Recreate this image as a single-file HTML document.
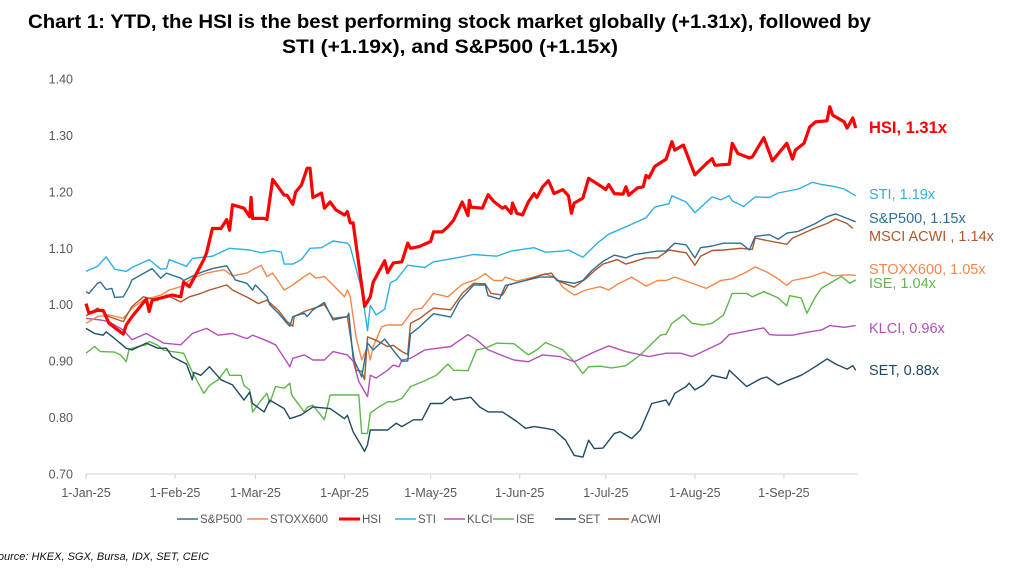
<!DOCTYPE html>
<html><head><meta charset="utf-8"><style>
html,body{margin:0;padding:0;background:#fff;}
svg{display:block;font-family:"Liberation Sans",sans-serif;}
</style></head><body>
<svg id="chart" width="1024" height="571" viewBox="0 0 1024 571" xmlns="http://www.w3.org/2000/svg">
<text x="28" y="28" font-size="19.5" font-weight="bold" fill="#000" textLength="843" lengthAdjust="spacingAndGlyphs">Chart 1: YTD, the HSI is the best performing stock market globally (+1.31x), followed by</text>
<text x="282" y="53" font-size="19.5" font-weight="bold" fill="#000" textLength="336" lengthAdjust="spacingAndGlyphs">STI (+1.19x), and S&amp;P500 (+1.15x)</text>
<g id="yaxis"></g>
<g id="xaxis"></g>
<g id="series"></g>
<g id="endlabels"></g>
<g id="legend"></g>
<text x="209" y="560" font-size="11" font-style="italic" fill="#111" text-anchor="end">Source: HKEX, SGX, Bursa, IDX, SET, CEIC</text>
</svg>
<script>
// ---- data (day index from 1-Jan-25, value) ----
const yTicks = [0.70,0.80,0.90,1.00,1.10,1.20,1.30,1.40];
const xTickDays = [0,31,59,90,120,151,181,212,243];
const xTickLabels = ["1-Jan-25","1-Feb-25","1-Mar-25","1-Apr-25","1-May-25","1-Jun-25","1-Jul-25","1-Aug-25","1-Sep-25"];
const seriesNames = ["S&P500","STOXX600","HSI","STI","KLCI","ISE","SET","ACWI"];
const seriesColors = ["#2E6E96","#F4874B","#FF0000","#2DB0E6","#B44FBA","#5DB848","#1E4A60","#B0562A"];

const hsiDays = [0,1,4,6,8,13,14,16,21,22,23,30,33,34,36,41,42,44,47,49,50,51,55,57,57.5,58,62,63,65,69,70,72,73,75,77,78,79,82,83,85,87,90,91,92,93,97,99,100,104,105,107,110,112,113,116,120,121,124,126,128,131,133,133.5,134,138,140,142,145,146,148,148.5,150,152,154,156,157,159,161,163,166,168,169,170,173,175,179,181,182,184,187,188,189,192,194,195,196,198,202,204,205,208,212,216,218,219,224,225,227,231,232,236,239,244,246,247,250,252,254,258,259,260,264,265,267,268];
const hsiVals = [1.002,0.985,0.99,0.99,0.967,0.948,0.964,0.979,1.01,0.988,1.008,1.017,1.014,1.04,1.032,1.08,1.092,1.135,1.135,1.151,1.132,1.177,1.171,1.156,1.19,1.153,1.153,1.151,1.222,1.194,1.194,1.178,1.2,1.212,1.242,1.242,1.19,1.198,1.171,1.182,1.168,1.159,1.165,1.145,1.145,0.997,1.014,1.04,1.078,1.057,1.074,1.076,1.109,1.1,1.103,1.112,1.129,1.129,1.138,1.15,1.182,1.158,1.185,1.173,1.171,1.195,1.183,1.171,1.174,1.162,1.18,1.162,1.159,1.182,1.197,1.19,1.209,1.22,1.197,1.204,1.193,1.162,1.18,1.189,1.224,1.211,1.204,1.213,1.197,1.196,1.209,1.194,1.207,1.209,1.229,1.225,1.245,1.258,1.289,1.274,1.283,1.23,1.25,1.259,1.247,1.249,1.286,1.268,1.26,1.262,1.296,1.255,1.286,1.258,1.274,1.286,1.315,1.324,1.326,1.351,1.336,1.324,1.313,1.331,1.313];

const stiDays = [0,4,7,10,14,16,22,26,28,29,35,37,44,50,57,61,65,68,69,72,75,78,82,86,91,92,96,98,99,101,104,106,108,112,118,121,128,135,143,148,156,160,166,168,173,178,182,188,195,198,203,204,209,212,218,221,224,225,229,233,238,241,248,253,256,260,264,268];
const stiVals = [1.059,1.068,1.085,1.063,1.059,1.066,1.08,1.063,1.064,1.08,1.068,1.082,1.086,1.1,1.097,1.092,1.096,1.093,1.072,1.072,1.08,1.1,1.101,1.113,1.109,1.103,1.026,0.954,0.999,0.982,0.992,1.039,1.044,1.07,1.066,1.076,1.082,1.089,1.086,1.095,1.101,1.093,1.095,1.097,1.084,1.109,1.125,1.138,1.154,1.173,1.179,1.193,1.182,1.163,1.191,1.186,1.193,1.184,1.174,1.191,1.19,1.198,1.205,1.217,1.213,1.21,1.205,1.193];

const spxDays = [0,1,4,5,7,9,10,13,15,16,23,26,28,33,34,38,41,44,49,52,56,58,59,63,64,67,70,71,72,76,77,79,83,86,91,91.5,93,95,96,98,100,104,107,110,112,113,116,121,127,130,135,139,140,144,146,153,158,163,164,170,173,176,180,184,188,191,195,199,202,205,209,212,214,218,222,228,231,233,238,241,244,248,254,258,261,265,268];
const spxVals = [1.023,1.02,1.038,1.04,1.027,1.029,1.013,1.014,1.032,1.044,1.064,1.047,1.056,1.047,1.043,1.053,1.059,1.064,1.069,1.044,1.038,1.026,1.035,1.014,1.0,0.985,0.967,0.962,0.979,0.985,0.979,0.991,1.004,0.973,0.979,0.985,0.905,0.884,0.872,0.932,0.92,0.939,0.919,0.9,0.9,0.948,0.96,0.984,0.978,1.007,1.035,1.035,1.016,1.01,1.034,1.043,1.049,1.049,1.043,1.038,1.043,1.06,1.077,1.088,1.083,1.089,1.092,1.095,1.095,1.109,1.106,1.083,1.101,1.104,1.109,1.109,1.097,1.121,1.124,1.116,1.127,1.13,1.144,1.156,1.161,1.153,1.147];

const stoxxDays = [0,4,8,13,16,20,26,29,33,37,42,48,51,56,58,61,63,65,69,72,76,78,80,83,86,90,91,92,94,96,98,99,100,103,105,110,114,117,121,126,131,136,139,142,145,146,150,156,160,164,166,170,174,179,182,185,190,195,199,202,205,210,216,221,225,230,233,237,241,244,246,252,257,260,265,268];
const stoxxVals = [0.967,0.979,0.982,0.976,0.994,1.008,1.017,1.026,1.032,1.047,1.056,1.062,1.051,1.056,1.062,1.07,1.05,1.056,1.026,1.035,1.05,1.056,1.047,1.05,1.035,1.014,1.026,1.015,0.943,0.902,0.926,0.902,0.926,0.961,0.964,0.964,0.991,0.994,1.02,1.014,1.036,1.045,1.055,1.043,1.043,1.049,1.042,1.049,1.055,1.046,1.031,1.017,1.026,1.032,1.026,1.036,1.049,1.033,1.043,1.043,1.049,1.04,1.029,1.043,1.046,1.058,1.067,1.058,1.046,1.034,1.043,1.049,1.058,1.051,1.053,1.052];

const klciDays = [0,5,8,13,16,21,25,27,33,37,42,46,51,56,58,62,66,71,72,76,79,83,86,91,93,95,98,99,101,105,107,109,110,113,118,127,133,136,140,149,154,159,165,170,176,182,188,196,202,207,211,216,221,224,230,236,238,241,246,252,256,259,264,268];
const klciVals = [0.976,0.973,0.97,0.955,0.938,0.949,0.938,0.932,0.929,0.949,0.958,0.946,0.949,0.94,0.946,0.938,0.929,0.89,0.905,0.911,0.902,0.902,0.917,0.911,0.9,0.864,0.837,0.875,0.87,0.884,0.893,0.89,0.902,0.905,0.92,0.926,0.947,0.938,0.92,0.902,0.899,0.911,0.908,0.899,0.914,0.927,0.917,0.908,0.914,0.914,0.908,0.92,0.932,0.947,0.953,0.959,0.947,0.946,0.946,0.952,0.955,0.963,0.96,0.963];

const iseDays = [0,3,5,10,12,14,15,18,21,22,25,27,30,34,37,41,43,46,49,50,54,55,57,58,61,63,64,66,69,71,71.5,72,76,77,79,83,85,95,96,98,99,102,105,107,110,113,117,122,126,128,133,136,139,143,149,154,157,160,166,170,173,175,179,183,188,193,196,200,202,204,208,211,215,218,222,225,230,232,236,241,244,245,249,251,254,256,260,263,266,268];
const iseVals = [0.914,0.926,0.917,0.916,0.911,0.899,0.921,0.926,0.929,0.935,0.928,0.92,0.917,0.914,0.881,0.843,0.857,0.867,0.887,0.875,0.875,0.857,0.849,0.81,0.831,0.843,0.826,0.855,0.852,0.861,0.843,0.837,0.81,0.818,0.822,0.796,0.84,0.84,0.772,0.772,0.808,0.819,0.828,0.828,0.834,0.855,0.863,0.875,0.895,0.884,0.883,0.92,0.923,0.932,0.931,0.911,0.92,0.933,0.92,0.899,0.878,0.89,0.891,0.888,0.892,0.911,0.926,0.946,0.948,0.967,0.982,0.967,0.964,0.967,0.982,1.02,1.02,1.014,1.023,1.012,0.998,1.016,1.012,0.985,1.014,1.029,1.041,1.05,1.038,1.044];

const setDays = [0,3,6,7,10,14,16,21,25,28,30,35,37,37.5,40,43,47,51,55,57,58,62,64,69,71,75,79,85,90,91,93,97,98,99,105,108,110,114,117,120,124,127,128,134,137,140,145,150,153,156,160,163,167,170,173,175,177,180,184,186,190,193,197,202,203,205,209,210,212,215,218,223,224,230,235,237,241,245,249,252,256,258,261,265,267,268];
const setVals = [0.958,0.949,0.946,0.952,0.94,0.923,0.92,0.932,0.923,0.923,0.908,0.895,0.867,0.88,0.875,0.89,0.867,0.858,0.831,0.845,0.825,0.81,0.831,0.816,0.798,0.805,0.819,0.816,0.798,0.804,0.775,0.74,0.752,0.778,0.778,0.79,0.784,0.796,0.796,0.825,0.825,0.837,0.831,0.836,0.819,0.81,0.81,0.793,0.781,0.784,0.781,0.778,0.76,0.733,0.73,0.76,0.745,0.746,0.772,0.775,0.763,0.778,0.825,0.831,0.822,0.843,0.855,0.861,0.849,0.858,0.875,0.869,0.884,0.855,0.869,0.872,0.858,0.867,0.875,0.884,0.897,0.904,0.895,0.886,0.892,0.884];

const acwiDays = [0,4,8,13,16,20,25,28,33,36,40,43,49,51,57,60,63,67,70,72,72.5,76,83,86,91,92,94,96,97,98,101,105,107,110,112,113,116,121,127,131,135,139,141,145,147,153,158,162,164,170,174,177,180,185,188,195,199,203,209,212,214,218,222,228,232,233,238,244,246,253,258,261,265,267];
const acwiVals = [0.98,0.994,0.979,0.97,0.997,1.014,1.008,1.017,1.005,1.014,1.02,1.026,1.035,1.026,1.011,1.002,1.008,0.99,0.97,0.962,0.979,0.988,1.0,0.976,0.979,0.946,0.884,0.882,0.867,0.943,0.937,0.926,0.928,0.917,0.912,0.967,0.975,0.994,0.991,1.02,1.038,1.037,1.02,1.017,1.035,1.043,1.052,1.056,1.043,1.031,1.046,1.06,1.072,1.08,1.072,1.083,1.083,1.097,1.092,1.07,1.086,1.096,1.097,1.1,1.098,1.118,1.113,1.107,1.118,1.134,1.144,1.152,1.144,1.135];

const endLabelTexts = ["HSI, 1.31x","STI, 1.19x","S&P500, 1.15x","MSCI ACWI , 1.14x","STOXX600, 1.05x","ISE, 1.04x","KLCI, 0.96x","SET, 0.88x"];

// ---- axes ----
const NS = "http://www.w3.org/2000/svg";
const X0 = 86, PXD = 2.872, Y140 = 79, PXV = 564.3;
function xs(d){ return X0 + d*PXD; }
function ys(v){ return Y140 + (1.40 - v)*PXV; }
function mk(tag, attrs, parent){ const e=document.createElementNS(NS,tag); for(const k in attrs) e.setAttribute(k,attrs[k]); parent.appendChild(e); return e; }

const yaxis = document.getElementById('yaxis');
yTicks.forEach(function(v){
  const t = mk('text',{x:73,y:ys(v)+4.5,'font-size':12.5,fill:'#595959','text-anchor':'end'},yaxis);
  
  
  t.textContent = v.toFixed(2);
});
const xaxis = document.getElementById('xaxis');
const axisLine = mk('line',{x1:X0,x2:858,y1:ys(0.70),y2:ys(0.70),stroke:'#d9d9d9','stroke-width':1.2},xaxis);


xTickDays.forEach(function(d,i){
  const tk = mk('line',{x1:xs(d),x2:xs(d),y1:ys(0.70),y2:ys(0.70)+5,stroke:'#d9d9d9','stroke-width':1.2},xaxis);
  
  
  const t = mk('text',{x:xs(d),y:497,'font-size':12.5,fill:'#595959','text-anchor':'middle'},xaxis);
  
  
  t.textContent = xTickLabels[i];
});

// ---- series ----
const seriesDays = [spxDays,stoxxDays,hsiDays,stiDays,klciDays,iseDays,setDays,acwiDays];
const seriesVals = [spxVals,stoxxVals,hsiVals,stiVals,klciVals,iseVals,setVals,acwiVals];
const seriesSlugs = ["sp500","stoxx600","hsi","sti","klci","ise","set","acwi"];
const drawOrder = [5,6,4,1,7,0,3,2];
const sg = document.getElementById('series');
drawOrder.forEach(function(i){
  const pts = seriesDays[i].map(function(d,k){ return xs(d).toFixed(1)+','+ys(seriesVals[i][k]).toFixed(1); }).join(' ');
  const p = mk('polyline',{points:pts,fill:'none',stroke:seriesColors[i],'stroke-width': i===2?3.2:1.4,'stroke-linejoin':'round'},sg);
  
  
});

// ---- end labels ----
const endLabelColors = ["#FF0000","#2DB0E6","#2E6E96","#B0562A","#F4874B","#5DB848","#B44FBA","#1E4A60"];
const endLabelY = [133,199,223,241,274,288,333,375];
const el = document.getElementById('endlabels');
endLabelTexts.forEach(function(s,i){
  const t = mk('text',{x:869,y:endLabelY[i],'font-size': i===0?16.5:14.5,'font-weight': i===0?'bold':'normal',fill:endLabelColors[i]},el);
  
  
  t.textContent = s;
});

// ---- legend ----
const legendX = [177,247,339,395,444,493,555,608];
const lg = document.getElementById('legend');
seriesNames.forEach(function(n,i){
  const g = mk('g',{},lg);
  
  
  mk('line',{x1:legendX[i],x2:legendX[i]+21,y1:519,y2:519,stroke:seriesColors[i],'stroke-width': i===2?3:1.5},g);
  const t = mk('text',{x:legendX[i]+23,y:523,'font-size':11.5,fill:'#595959'},g);
  t.textContent = n;
});
</script>
</body></html>
